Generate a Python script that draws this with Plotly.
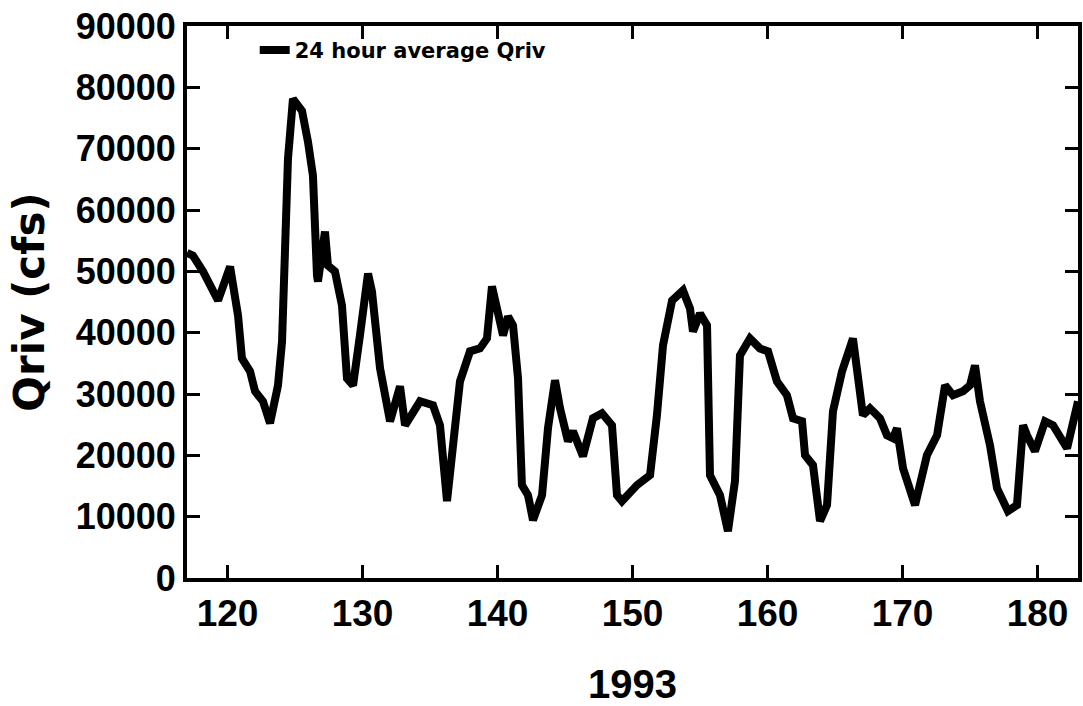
import plotly.graph_objects as go

# Day of year 1993 and 24-hour average river discharge (cfs)
day = [117.0, 117.44, 118.19, 118.93, 119.30, 120.19, 120.56, 120.78, 121.07, 121.67,
       122.04, 122.63, 123.15, 123.74, 124.04, 124.26, 124.48, 124.85, 125.52, 125.96,
       126.33, 126.63, 126.70, 127.22, 127.44, 127.96, 128.48, 128.85, 129.30, 129.81,
       130.41, 130.70, 131.30, 132.04, 132.78, 133.15, 134.26, 135.22, 135.74, 136.26,
       137.22, 137.96, 138.70, 139.22, 139.59, 139.96, 140.41, 140.78, 141.15, 141.52,
       141.81, 142.26, 142.63, 143.30, 143.74, 144.26, 144.63, 145.22, 145.59, 146.33,
       147.07, 147.74, 148.48, 148.85, 149.22, 150.33, 151.30, 151.81, 152.26, 152.93,
       153.74, 154.26, 154.48, 155.00, 155.52, 155.74, 156.48, 157.07, 157.59, 157.96,
       158.70, 159.44, 160.04, 160.70, 161.44, 161.89, 162.56, 162.78, 163.37, 163.89,
       164.41, 164.85, 165.52, 166.33, 166.63, 167.07, 167.59, 168.33, 168.85, 169.30,
       169.59, 170.04, 170.93, 171.81, 172.56, 173.15, 173.74, 174.48, 175.00, 175.37,
       175.74, 176.48, 177.00, 177.81, 178.48, 178.93, 179.22, 179.81, 180.56, 181.15,
       182.19, 183.00]

qriv = [53000, 52570, 49970, 46710, 45250, 50780, 46710, 42800, 35810, 33690,
        30440, 28810, 25230, 31410, 38570, 52080, 68360, 78120, 76170, 71130,
        65590, 49320, 48340, 56480, 50940, 49970, 44430, 32550, 31410, 39550,
        49640, 46710, 34180, 25550, 31250, 24900, 28810, 28160, 24900, 12530,
        32060, 36950, 37430, 39060, 47530, 43950, 39550, 42640, 41180, 32550,
        15140, 13510, 9440, 13510, 24410, 32230, 27670, 22300, 23930, 19860,
        26040, 26860, 24900, 13510, 12530, 15140, 16760, 26530, 37920, 45250,
        46880, 43950, 40200, 43130, 41180, 16760, 13510, 7650, 15790, 36300,
        39060, 37430, 36950, 32060, 29790, 26040, 25550, 20020, 18390, 9280,
        11880, 27180, 33690, 39060, 33040, 26530, 27670, 26040, 23270, 22790,
        24410, 17900, 11880, 20020, 23270, 31410, 29790, 30440, 31410, 34670,
        28810, 21650, 14650, 10900, 11880, 24900, 23270, 20670, 25550, 24900,
        21160, 28810]

x_ticks = [120, 130, 140, 150, 160, 170, 180]
y_ticks = [0, 10000, 20000, 30000, 40000, 50000, 60000, 70000, 80000, 90000]

font_family = "Liberation Sans, Arial, sans-serif"

fig = go.Figure()
fig.add_trace(go.Scatter(
    x=day, y=qriv, mode="lines",
    name="24 hour average Qriv",
    line=dict(color="black", width=8),
))

axis_common = dict(
    showline=True, linecolor="black", linewidth=4, mirror="ticks",
    ticks="inside", ticklen=13, tickwidth=3, tickcolor="black",
    showgrid=False, zeroline=False,
)

fig.update_xaxes(
    range=[117, 183], tickvals=x_ticks, ticktext=[str(v) for v in x_ticks],
    tickfont=dict(family=font_family, size=37, color="black", weight="bold"),
    title=dict(text="1993", standoff=47,
               font=dict(family=font_family, size=40, color="black", weight="bold")),
    **axis_common,
)
fig.update_yaxes(
    range=[0, 90000], tickvals=y_ticks, ticktext=[str(v) for v in y_ticks],
    tickfont=dict(family=font_family, size=36, color="black", weight="bold"),
    title=dict(text="Qriv (cfs)", standoff=19,
               font=dict(family="DejaVu Sans, sans-serif", size=42, color="black", weight="bold")),
    **axis_common,
)

fig.update_layout(
    width=1083, height=706,
    margin=dict(l=187, r=5, t=26, b=128, autoexpand=False),
    paper_bgcolor="white", plot_bgcolor="white",
    showlegend=True,
    legend=dict(
        x=0.076, y=0.956, xanchor="left", yanchor="middle",
        bgcolor="rgba(0,0,0,0)", borderwidth=0,
        font=dict(family="DejaVu Sans, sans-serif", size=21, color="black", weight="bold"),
    ),
)

fig.write_html("out.html")
